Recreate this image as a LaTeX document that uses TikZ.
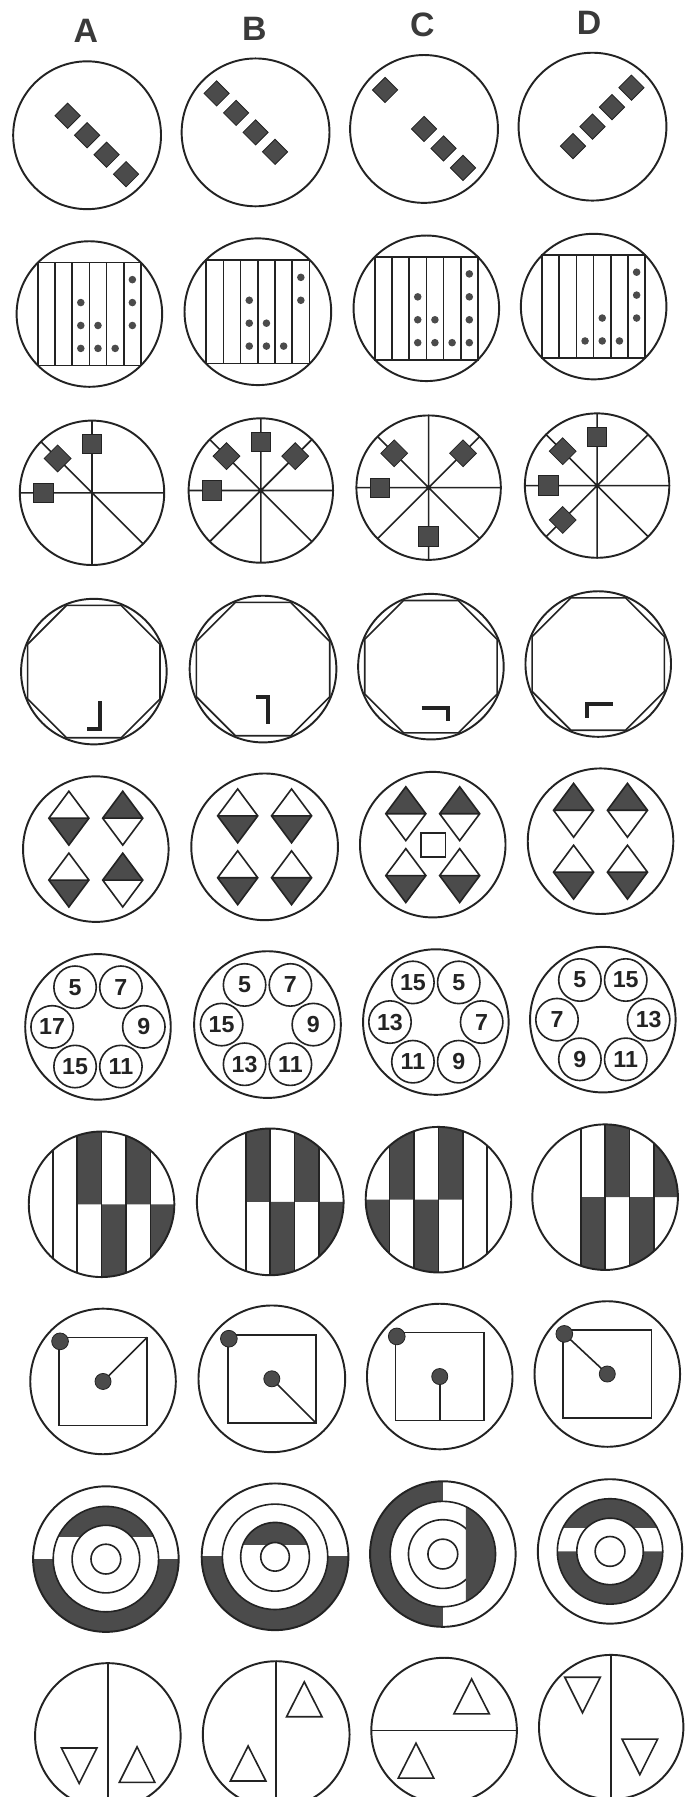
\documentclass[tikz,border=0pt]{standalone}
\usepackage{fontspec}
\setmainfont{Liberation Sans}
\definecolor{ink}{HTML}{232323}
\definecolor{tone}{HTML}{4B4B4B}
\definecolor{headgray}{HTML}{3A3A3A}

\begin{document}
\begin{tikzpicture}[x=0.025cm, y=-0.025cm, line join=miter,
    rim/.style={draw=ink, line width=1.2pt},
    stroke/.style={draw=ink, line width=1pt},
    block/.style={fill=tone, draw=ink, line width=0.5pt},
    hook/.style={draw=ink, line width=2.4pt},
    colhead/.style={font=\bfseries\fontsize{21}{21}\selectfont, text=headgray},
    digit/.style={font=\bfseries\fontsize{14.4}{14.4}\selectfont, text=ink, inner sep=0pt}]
    % 0. Khung hình
    \useasboundingbox (0,0) rectangle (598,1568);
    \clip (0,0) rectangle (598,1568);

    % 1. Chữ cái đầu cột
    \node[colhead] (headA) at (75,27) {A};
    \node[colhead] (headB) at (222,25) {B};
    \node[colhead] (headC) at (368.5,22) {C};
    \node[colhead] (headD) at (514,20) {D};

    % 2. Hàng 1: bốn ô vuông xoay trên đường chéo
    \begin{scope}[shift={(76,118)}]
        \draw[rim] (0,0) circle (64.5);
        \foreach \t in {-1,0,1,2}
            \filldraw[block] ({17*\t},{17*\t}) ++(-11,0) -- ++(11,-11) -- ++(11,11) -- ++(-11,11) -- cycle;
    \end{scope}
    \begin{scope}[shift={(223,115.5)}]
        \draw[rim] (0,0) circle (64.5);
        \foreach \t in {-2,-1,0,1}
            \filldraw[block] ({17*\t},{17*\t}) ++(-11,0) -- ++(11,-11) -- ++(11,11) -- ++(-11,11) -- cycle;
    \end{scope}
    \begin{scope}[shift={(370,112.5)}]
        \draw[rim] (0,0) circle (64.5);
        \foreach \t in {-2,0,1,2}
            \filldraw[block] ({17*\t},{17*\t}) ++(-11,0) -- ++(11,-11) -- ++(11,11) -- ++(-11,11) -- cycle;
    \end{scope}
    \begin{scope}[shift={(517,110.5)}]
        \draw[rim] (0,0) circle (64.5);
        \foreach \t in {-1,0,1,2}
            \filldraw[block] ({17*\t},{-17*\t}) ++(-11,0) -- ++(11,-11) -- ++(11,11) -- ++(-11,11) -- cycle;
    \end{scope}

    % 3. Hàng 2: hình vuông kẻ sọc và các chấm
    \begin{scope}[shift={(78,274)}]
        \draw[rim] (0,0) circle (63.5);
        \draw[stroke] (-45,-45) rectangle (45,45);
        \foreach \x in {-30,-15,...,30} \draw[stroke] (\x,-45) -- (\x,45);
        \foreach \c/\r in {3/2,3/3,3/4,4/3,4/4,5/4,6/1,6/2,6/3}
            \fill[tone] ({15*\c-52.5},{20*\r-50}) circle (3.3);
    \end{scope}
    \begin{scope}[shift={(225,272)}]
        \draw[rim] (0,0) circle (64);
        \draw[stroke] (-45,-45) rectangle (45,45);
        \foreach \x in {-30,-15,...,30} \draw[stroke] (\x,-45) -- (\x,45);
        \foreach \c/\r in {3/2,3/3,3/4,4/3,4/4,5/4,6/1,6/2}
            \fill[tone] ({15*\c-52.5},{20*\r-50}) circle (3.3);
    \end{scope}
    \begin{scope}[shift={(372,269)}]
        \draw[rim] (0,0) circle (63.5);
        \draw[stroke] (-45,-45) rectangle (45,45);
        \foreach \x in {-30,-15,...,30} \draw[stroke] (\x,-45) -- (\x,45);
        \foreach \c/\r in {3/2,3/3,3/4,4/3,4/4,5/4,6/1,6/2,6/3,6/4}
            \fill[tone] ({15*\c-52.5},{20*\r-50}) circle (3.3);
    \end{scope}
    \begin{scope}[shift={(518,267.5)}]
        \draw[rim] (0,0) circle (63.5);
        \draw[stroke] (-45,-45) rectangle (45,45);
        \foreach \x in {-30,-15,...,30} \draw[stroke] (\x,-45) -- (\x,45);
        \foreach \c/\r in {3/4,4/3,4/4,5/4,6/1,6/2,6/3}
            \fill[tone] ({15*\c-52.5},{20*\r-50}) circle (3.3);
    \end{scope}

    % 4. Hàng 3: nan hoa với ô vuông và ô thoi
    \begin{scope}[shift={(80.3,430)}]
        \draw[rim] (0,0) circle (63);
        \draw[stroke] (-63,0) -- (63,0) (0,-63) -- (0,63) (-44.5,-44.5) -- (44.5,44.5);
        \foreach \x/\y in {0/-42.5,-42.5/0}
            \filldraw[block] (\x,\y) ++(-8.5,-8.5) rectangle ++(17,17);
        \foreach \x/\y in {-30/-30}
            \filldraw[block] (\x,\y) ++(-11.7,0) -- ++(11.7,-11.7) -- ++(11.7,11.7) -- ++(-11.7,11.7) -- cycle;
    \end{scope}
    \begin{scope}[shift={(227.6,428)}]
        \draw[rim] (0,0) circle (63);
        \draw[stroke] (-63,0) -- (63,0) (0,-63) -- (0,63) (-44.5,-44.5) -- (44.5,44.5) (-44.5,44.5) -- (44.5,-44.5);
        \foreach \x/\y in {0/-42.5,-42.5/0}
            \filldraw[block] (\x,\y) ++(-8.5,-8.5) rectangle ++(17,17);
        \foreach \x/\y in {-30/-30,30/-30}
            \filldraw[block] (\x,\y) ++(-11.7,0) -- ++(11.7,-11.7) -- ++(11.7,11.7) -- ++(-11.7,11.7) -- cycle;
    \end{scope}
    \begin{scope}[shift={(374,425.5)}]
        \draw[rim] (0,0) circle (63);
        \draw[stroke] (-63,0) -- (63,0) (0,-63) -- (0,63) (-44.5,-44.5) -- (44.5,44.5) (-44.5,44.5) -- (44.5,-44.5);
        \foreach \x/\y in {0/42.5,-42.5/0}
            \filldraw[block] (\x,\y) ++(-8.5,-8.5) rectangle ++(17,17);
        \foreach \x/\y in {-30/-30,30/-30}
            \filldraw[block] (\x,\y) ++(-11.7,0) -- ++(11.7,-11.7) -- ++(11.7,11.7) -- ++(-11.7,11.7) -- cycle;
    \end{scope}
    \begin{scope}[shift={(521,423.7)}]
        \draw[rim] (0,0) circle (63);
        \draw[stroke] (-63,0) -- (63,0) (0,-63) -- (0,63) (-44.5,-44.5) -- (44.5,44.5) (-44.5,44.5) -- (44.5,-44.5);
        \foreach \x/\y in {0/-42.5,-42.5/0}
            \filldraw[block] (\x,\y) ++(-8.5,-8.5) rectangle ++(17,17);
        \foreach \x/\y in {-30/-30,-30/30}
            \filldraw[block] (\x,\y) ++(-11.7,0) -- ++(11.7,-11.7) -- ++(11.7,11.7) -- ++(-11.7,11.7) -- cycle;
    \end{scope}

    % 5. Hàng 4: bát giác nội tiếp và nét góc
    \begin{scope}[shift={(81.9,586)}]
        \draw[rim] (0,0) circle (63.5);
        \draw[stroke] (22.5:62.5) \foreach \a in {67.5,112.5,...,337.5} { -- (\a:62.5) } -- cycle;
        \draw[hook] (5.3,26) -- (5.3,50) -- (-6,50);
    \end{scope}
    \begin{scope}[shift={(229.5,583.8)}]
        \draw[rim] (0,0) circle (64);
        \draw[stroke] (22.5:63) \foreach \a in {67.5,112.5,...,337.5} { -- (\a:63) } -- cycle;
        \draw[hook] (-5.7,24.4) -- (4.6,24.4) -- (4.6,47.7);
    \end{scope}
    \begin{scope}[shift={(376,581.7)}]
        \draw[rim] (0,0) circle (63.5);
        \draw[stroke] (22.5:62.5) \foreach \a in {67.5,112.5,...,337.5} { -- (\a:62.5) } -- cycle;
        \draw[hook] (-8,36) -- (15,36) -- (15,47);
    \end{scope}
    \begin{scope}[shift={(522,579.4)}]
        \draw[rim] (0,0) circle (63.5);
        \draw[stroke] (22.5:62.5) \foreach \a in {67.5,112.5,...,337.5} { -- (\a:62.5) } -- cycle;
        \draw[hook] (-10,47) -- (-10,34.6) -- (13,34.6);
    \end{scope}

    % 6. Hàng 5: hình thoi tô nửa
    \begin{scope}[shift={(83.6,740.9)}]
        \draw[rim] (0,0) circle (63.5);
        \foreach \cx/\cy/\s in {-23.5/-27/1, 23.5/-27/-1, -23.5/27/1, 23.5/27/-1} {
            \fill[tone] ({\cx-17.5},\cy) -- (\cx,{\cy+23.5*(\s)}) -- ({\cx+17.5},\cy) -- cycle;
            \draw[stroke] (\cx,{\cy-23.5}) -- ({\cx+17.5},\cy) -- (\cx,{\cy+23.5}) -- ({\cx-17.5},\cy) -- cycle
                ({\cx-17.5},\cy) -- ({\cx+17.5},\cy);
        }
    \end{scope}
    \begin{scope}[shift={(230.9,738.9)}]
        \draw[rim] (0,0) circle (64);
        \foreach \cx/\cy/\s in {-23.5/-27/1, 23.5/-27/1, -23.5/27/1, 23.5/27/1} {
            \fill[tone] ({\cx-17.5},\cy) -- (\cx,{\cy+23.5*(\s)}) -- ({\cx+17.5},\cy) -- cycle;
            \draw[stroke] (\cx,{\cy-23.5}) -- ({\cx+17.5},\cy) -- (\cx,{\cy+23.5}) -- ({\cx-17.5},\cy) -- cycle
                ({\cx-17.5},\cy) -- ({\cx+17.5},\cy);
        }
    \end{scope}
    \begin{scope}[shift={(377.6,737)}]
        \draw[rim] (0,0) circle (63.5);
        \foreach \cx/\cy/\s in {-23.5/-27/-1, 23.5/-27/-1, -23.5/27/1, 23.5/27/1} {
            \fill[tone] ({\cx-17.5},\cy) -- (\cx,{\cy+23.5*(\s)}) -- ({\cx+17.5},\cy) -- cycle;
            \draw[stroke] (\cx,{\cy-23.5}) -- ({\cx+17.5},\cy) -- (\cx,{\cy+23.5}) -- ({\cx-17.5},\cy) -- cycle
                ({\cx-17.5},\cy) -- ({\cx+17.5},\cy);
        }
        \draw[stroke] (-10,-10) rectangle (11,11);
    \end{scope}
    \begin{scope}[shift={(524,734)}]
        \draw[rim] (0,0) circle (63.5);
        \foreach \cx/\cy/\s in {-23.5/-27/-1, 23.5/-27/-1, -23.5/27/1, 23.5/27/1} {
            \fill[tone] ({\cx-17.5},\cy) -- (\cx,{\cy+23.5*(\s)}) -- ({\cx+17.5},\cy) -- cycle;
            \draw[stroke] (\cx,{\cy-23.5}) -- ({\cx+17.5},\cy) -- (\cx,{\cy+23.5}) -- ({\cx-17.5},\cy) -- cycle
                ({\cx-17.5},\cy) -- ({\cx+17.5},\cy);
        }
    \end{scope}

    % 7. Hàng 6: sáu vòng tròn có số
    \begin{scope}[shift={(85.5,896)}]
        \draw[rim] (0,0) circle (63.5);
        \foreach \x/\y/\n [count=\k] in {-20/-34.6/5, 20/-34.6/7, 40/0/9, 20/34.6/11, -20/34.6/15, -40/0/17} {
            \draw[stroke] (\x,\y) circle (18.5);
            \node[digit] (numA\k) at (\x,\y) {\n};
        }
    \end{scope}
    \begin{scope}[shift={(233.4,894)}]
        \draw[rim] (0,0) circle (64);
        \foreach \x/\y/\n [count=\k] in {-20/-34.6/5, 20/-34.6/7, 40/0/9, 20/34.6/11, -20/34.6/13, -40/0/15} {
            \draw[stroke] (\x,\y) circle (18.5);
            \node[digit] (numB\k) at (\x,\y) {\n};
        }
    \end{scope}
    \begin{scope}[shift={(380.3,891.8)}]
        \draw[rim] (0,0) circle (63.5);
        \foreach \x/\y/\n [count=\k] in {-20/-34.6/15, 20/-34.6/5, 40/0/7, 20/34.6/9, -20/34.6/11, -40/0/13} {
            \draw[stroke] (\x,\y) circle (18.5);
            \node[digit] (numC\k) at (\x,\y) {\n};
        }
    \end{scope}
    \begin{scope}[shift={(526,889.7)}]
        \draw[rim] (0,0) circle (63.5);
        \foreach \x/\y/\n [count=\k] in {-20/-34.6/5, 20/-34.6/15, 40/0/13, 20/34.6/11, -20/34.6/9, -40/0/7} {
            \draw[stroke] (\x,\y) circle (18.5);
            \node[digit] (numD\k) at (\x,\y) {\n};
        }
    \end{scope}

    % 8. Hàng 7: sọc đứng tô xen kẽ
    \begin{scope}[shift={(88.6,1050.8)}]
        \begin{scope}
            \clip (0,0) circle (63.5);
            \fill[tone] (-21.3,-64) rectangle (0,0) (0,0) rectangle (21.3,64)
                (21.3,-64) rectangle (42.6,0) (42.6,0) rectangle (64,64);
            \foreach \x in {-42.6,-21.3,0,21.3,42.6} \draw[stroke] (\x,-64) -- (\x,64);
        \end{scope}
        \draw[rim] (0,0) circle (63.5);
    \end{scope}
    \begin{scope}[shift={(235.8,1048.7)}]
        \begin{scope}
            \clip (0,0) circle (64);
            \fill[tone] (-21.3,-64) rectangle (0,0) (0,0) rectangle (21.3,64)
                (21.3,-64) rectangle (42.6,0) (42.6,0) rectangle (64,64);
            \foreach \x in {-21.3,0,21.3,42.6} \draw[stroke] (\x,-64) -- (\x,64);
        \end{scope}
        \draw[rim] (0,0) circle (64);
    \end{scope}
    \begin{scope}[shift={(382.6,1046.8)}]
        \begin{scope}
            \clip (0,0) circle (63.5);
            \fill[tone] (-64,0) rectangle (-42.6,64) (-42.6,-64) rectangle (-21.3,0)
                (-21.3,0) rectangle (0,64) (0,-64) rectangle (21.3,0);
            \foreach \x in {-42.6,-21.3,0,21.3,42.6} \draw[stroke] (\x,-64) -- (\x,64);
        \end{scope}
        \draw[rim] (0,0) circle (63.5);
    \end{scope}
    \begin{scope}[shift={(528,1044.6)}]
        \begin{scope}
            \clip (0,0) circle (63.5);
            \fill[tone] (-21.3,0) rectangle (0,64) (0,-64) rectangle (21.3,0)
                (21.3,0) rectangle (42.6,64) (42.6,-64) rectangle (64,0);
            \foreach \x in {-21.3,0,21.3,42.6} \draw[stroke] (\x,-64) -- (\x,64);
        \end{scope}
        \draw[rim] (0,0) circle (63.5);
    \end{scope}

    % 9. Hàng 8: hình vuông, chấm góc và chấm tâm
    \begin{scope}[shift={(89.9,1205.4)}]
        \draw[rim] (0,0) circle (63.5);
        \draw[stroke] (-38.5,-38.5) rectangle (38.5,38.5);
        \draw[stroke] (0,0) -- (38.5,-38.5);
        \filldraw[block] (-37.5,-35) circle (7.3) (0,0) circle (7);
    \end{scope}
    \begin{scope}[shift={(237.2,1203.1)}]
        \draw[rim] (0,0) circle (64);
        \draw[stroke] (-38.5,-38.5) rectangle (38.5,38.5);
        \draw[stroke] (0,0) -- (38.5,38.5);
        \filldraw[block] (-37.5,-35) circle (7.3) (0,0) circle (7);
    \end{scope}
    \begin{scope}[shift={(383.7,1201.1)}]
        \draw[rim] (0,0) circle (63.5);
        \draw[stroke] (-38.5,-38.5) rectangle (38.5,38.5);
        \draw[stroke] (0,0) -- (0,38.5);
        \filldraw[block] (-37.5,-35) circle (7.3) (0,0) circle (7);
    \end{scope}
    \begin{scope}[shift={(529.9,1198.9)}]
        \draw[rim] (0,0) circle (63.5);
        \draw[stroke] (-38.5,-38.5) rectangle (38.5,38.5);
        \draw[stroke] (-37.5,-35) -- (0,0);
        \filldraw[block] (-37.5,-35) circle (7.3) (0,0) circle (7);
    \end{scope}

    % 10. Hàng 9: vòng đồng tâm tô một phần
    \begin{scope}[shift={(92.4,1360.4)}]
        \begin{scope}
            \clip (-70,0) rectangle (70,70);
            \fill[tone, even odd rule] (0,0) circle (63.5) (0,0) circle (46);
        \end{scope}
        \begin{scope}
            \clip (-70,-70) rectangle (70,-20);
            \fill[tone, even odd rule] (0,0) circle (46) (0,0) circle (29.5);
        \end{scope}
        \draw[rim] (0,0) circle (63.5);
        \draw[stroke] (0,0) circle (46) (0,0) circle (29.5) (0,0) circle (13);
    \end{scope}
    \begin{scope}[shift={(240,1358.4)}]
        \begin{scope}
            \clip (-70,0) rectangle (70,70);
            \fill[tone, even odd rule] (0,0) circle (64) (0,0) circle (46);
        \end{scope}
        \begin{scope}
            \clip (-70,-70) rectangle (70,-10.5);
            \fill[tone, even odd rule] (0,0) circle (30) (0,0) circle (12.5);
        \end{scope}
        \draw[rim] (0,0) circle (64);
        \draw[stroke] (0,0) circle (46) (0,0) circle (30) (0,0) circle (12.5);
    \end{scope}
    \begin{scope}[shift={(386.4,1356)}]
        \begin{scope}
            \clip (-70,-70) rectangle (0,70);
            \fill[tone, even odd rule] (0,0) circle (63.5) (0,0) circle (46);
        \end{scope}
        \begin{scope}
            \clip (20,-70) rectangle (70,70);
            \fill[tone] (0,0) circle (46);
        \end{scope}
        \begin{scope}
            \clip (-70,-70) rectangle (20,70);
            \draw[stroke] (0,0) circle (30);
        \end{scope}
        \draw[rim] (0,0) circle (63.5);
        \draw[stroke] (0,0) circle (46) (0,0) circle (13);
    \end{scope}
    \begin{scope}[shift={(532.3,1353.7)}]
        \begin{scope}
            \clip (-70,-70) rectangle (70,-20.5) (-70,0) rectangle (70,70);
            \fill[tone, even odd rule] (0,0) circle (46) (0,0) circle (29);
        \end{scope}
        \draw[rim] (0,0) circle (63);
        \draw[stroke] (0,0) circle (46) (0,0) circle (29) (0,0) circle (13);
    \end{scope}

    % 11. Hàng 10: đường chia đôi và tam giác
    \begin{scope}[shift={(94.1,1514.7)}]
        \draw[rim] (0,0) circle (63.5);
        \draw[stroke] (0,-63.5) -- (0,63.5);
        \draw[stroke] (-40.5,10.5) -- (-9.5,10.5) -- (-25,41.5) -- cycle;
        \draw[stroke] (25.5,9.5) -- (41,40.5) -- (10,40.5) -- cycle;
    \end{scope}
    \begin{scope}[shift={(241,1513.5)}]
        \draw[rim] (0,0) circle (64);
        \draw[stroke] (0,-64) -- (0,64);
        \draw[stroke] (24.5,-46) -- (40,-15.5) -- (9,-15.5) -- cycle;
        \draw[stroke] (-24.5,10) -- (-9,40.5) -- (-40,40.5) -- cycle;
    \end{scope}
    \begin{scope}[shift={(387.5,1510)}]
        \draw[rim] (0,0) circle (63.5);
        \draw[stroke] (-63.5,0) -- (63.5,0);
        \draw[stroke] (24,-45) -- (39.5,-14.5) -- (8.5,-14.5) -- cycle;
        \draw[stroke] (-24.5,11) -- (-9,41.5) -- (-40,41.5) -- cycle;
    \end{scope}
    \begin{scope}[shift={(533.3,1507)}]
        \draw[rim] (0,0) circle (63);
        \draw[stroke] (0,-63) -- (0,63);
        \draw[stroke] (-40.5,-43.5) -- (-9.5,-43.5) -- (-25,-12.5) -- cycle;
        \draw[stroke] (9.5,10.5) -- (40.5,10.5) -- (25,41.5) -- cycle;
    \end{scope}
\end{tikzpicture}
\end{document}
